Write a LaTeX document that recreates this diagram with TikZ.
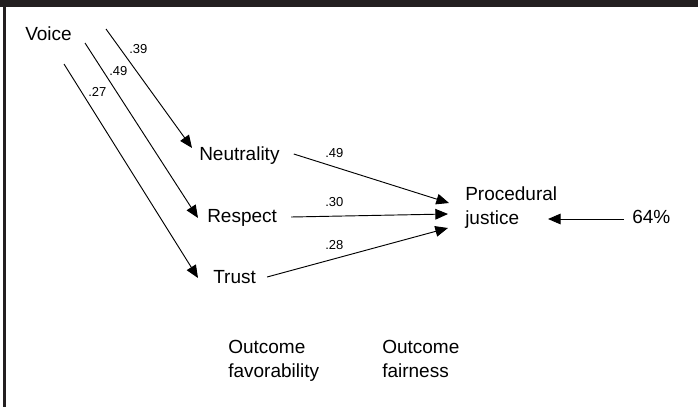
\documentclass[tikz,border=0pt]{standalone}
\usepackage{fontspec}
\setmainfont{Liberation Sans}
\usetikzlibrary{arrows.meta,calc}
\definecolor{framedark}{HTML}{231F20}
\begin{document}
\begin{tikzpicture}[x=0.75pt,y=-0.75pt,
  lbl/.style={inner sep=0, anchor=base west, font=\fontsize{14.25pt}{17.6pt}\selectfont, align=left},
  coef/.style={inner sep=0, anchor=base west, font=\fontsize{9.75pt}{11pt}\selectfont},
  pathar/.style={line width=0.7pt, -{Triangle[length=9.5pt,width=8pt]}}]
\useasboundingbox (0,0) rectangle (698,407);
\fill[framedark] (0,0) rectangle (698,7);
\fill[framedark] (3,0) rectangle (6,407);
% nodes
\node[lbl] (voice) at (25,40) {Voice};
\node[lbl] (neut) at (199,160) {Neutrality};
\node[lbl] (resp) at (207,222) {Respect};
\node[lbl] (trust) at (213,283) {Trust};
\node[lbl] (pj) at (465,224) {Procedural\\justice};
\node[lbl] (pct) at (632,223) {64\%};
\node[lbl] (ofav) at (228,377) {Outcome\\favorability};
\node[lbl] (ofair) at (382,377) {Outcome\\fairness};
% free ends
\coordinate (s1) at (106,29);
\coordinate (s2) at (85,43);
\coordinate (s3) at (64,64);
\coordinate (t1) at ($(neut.base west)+(-7,-12)$);
\coordinate (t2) at ($(resp.base west)+(-9,-4)$);
\coordinate (t3) at ($(trust.base west)+(-15,-5)$);
\coordinate (n0) at ($(neut.base east)+(14,-6)$);
\coordinate (r0) at ($(resp.base east)+(14,-5)$);
\coordinate (u0) at ($(trust.base east)+(11,-6)$);
\coordinate (p1) at ($(pj.base west)+(-16,-21)$);
\coordinate (p2) at ($(pj.base west)+(-17,-10)$);
\coordinate (p3) at ($(pj.base west)+(-17,4)$);
\coordinate (p4) at ($(pj.base west)+(83,-5)$);
\coordinate (c0) at ($(pct.base west)+(-8,-4)$);
% connectors
\draw[pathar] (s1) -- (t1);
\draw[pathar] (s2) -- (t2);
\draw[pathar] (s3) -- (t3);
\draw[pathar] (n0) -- (p1);
\draw[pathar] (r0) -- (p2);
\draw[pathar] (u0) -- (p3);
\draw[pathar] (c0) -- (p4);
% coefficients
\node[coef] (k1) at (129,53) {.39};
\node[coef] (k2) at (109,75) {.49};
\node[coef] (k3) at (88,96) {.27};
\node[coef] (k4) at (325,157) {.49};
\node[coef] (k5) at (325,206) {.30};
\node[coef] (k6) at (325,249) {.28};
\end{tikzpicture}
\end{document}
